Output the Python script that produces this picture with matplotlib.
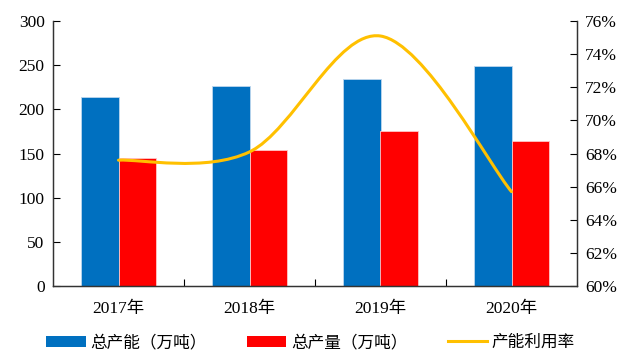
import matplotlib
matplotlib.use('Agg')
import matplotlib.pyplot as plt
from matplotlib.path import Path
from matplotlib.patches import PathPatch, Patch
from matplotlib.lines import Line2D
from matplotlib.ticker import FuncFormatter

years = ['2017年', '2018年', '2019年', '2020年']
capacity = [214, 226, 234, 249]      # 总产能（万吨）
output = [145, 154, 176, 164]        # 总产量（万吨）
utilization = [67.6, 68.1, 75.1, 65.7]  # 产能利用率 %

serif = ['Liberation Serif', 'Noto Sans CJK SC']
cjk = ['Noto Sans CJK SC', 'DejaVu Sans']

blue = '#0070C0'
red = '#FF0000'
gold = '#FFC000'

fig = plt.figure(figsize=(6.25, 3.52), dpi=100)
ax = fig.add_axes([0.0848, 0.1875, 0.8384, 0.7525])
ax2 = ax.twinx()

x = list(range(len(years)))
w = 0.286
ax.bar([i - w / 2 for i in x], capacity, w, color=blue, edgecolor='#BDD7EE', linewidth=0.6, zorder=2)
ax.bar([i + w / 2 for i in x], output, w, color=red, edgecolor='#FFC7C7', linewidth=0.6, zorder=2)

# smoothed line like office charts: cubic bezier segments through the points
pts = list(zip(x, utilization))
verts = [pts[0]]
codes = [Path.MOVETO]
n = len(pts)
for i in range(n - 1):
    p0 = pts[max(i - 1, 0)]
    p1 = pts[i]
    p2 = pts[i + 1]
    p3 = pts[min(i + 2, n - 1)]
    c1 = (p1[0] + (p2[0] - p0[0]) / 6, p1[1] + (p2[1] - p0[1]) / 6)
    c2 = (p2[0] - (p3[0] - p1[0]) / 6, p2[1] - (p3[1] - p1[1]) / 6)
    verts += [c1, c2, p2]
    codes += [Path.CURVE4] * 3
ax2.add_patch(PathPatch(Path(verts, codes), fill=False, edgecolor=gold, linewidth=2.2,
                        capstyle='round', zorder=3))

ax.set_xlim(-0.5, len(years) - 0.5)
ax.set_ylim(0, 300)
ax.set_yticks(range(0, 301, 50))
ax2.set_ylim(60, 76)
ax2.set_yticks(range(60, 77, 2))
ax2.yaxis.set_major_formatter(FuncFormatter(lambda v, p: '%d%%' % v))

ax.set_xticks([i + 0.5 for i in x[:-1]])
ax.set_xticklabels([])
ax.set_xticks(x, minor=True)
ax.set_xticklabels(years, minor=True, family=serif, fontsize=12.5)
ax.tick_params(axis='x', which='minor', length=0, pad=11)
ax.tick_params(axis='x', which='major', direction='in', length=5, width=0.8)
ax.tick_params(axis='y', direction='in', length=5, width=0.8, pad=6)
ax2.tick_params(axis='y', direction='in', length=5, width=0.8, pad=6)
for lab in ax.get_yticklabels() + ax2.get_yticklabels():
    lab.set_family(serif)
    lab.set_fontsize(12.5)

for a in (ax, ax2):
    a.spines['top'].set_visible(False)
    for s in ('left', 'right', 'bottom'):
        a.spines[s].set_color('#333333')
        a.spines[s].set_linewidth(0.9)

handles = [Patch(facecolor=blue, edgecolor='none'),
           Patch(facecolor=red, edgecolor='none'),
           Line2D([0], [0], color=gold, linewidth=2.2)]
labels = ['总产能（万吨）', '总产量（万吨）', '产能利用率']
fig.legend(handles, labels, loc='center', bbox_to_anchor=(0.497, 0.027), ncol=3, frameon=False,
           prop={'family': cjk, 'size': 12}, handlelength=2.35, handleheight=0.65,
           columnspacing=2.4, handletextpad=0.3)

fig.savefig('out.png', dpi=100)
